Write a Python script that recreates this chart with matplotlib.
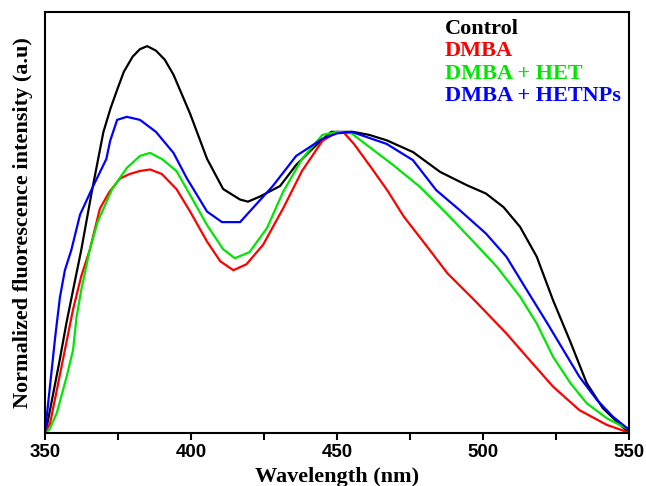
import numpy as np
import matplotlib
matplotlib.use('Agg')
import matplotlib.pyplot as plt
from matplotlib.ticker import MultipleLocator

# Datos (longitud de onda en nm, intensidad normalizada)
wl_control = [350, 350.6, 352.8, 355, 357.3, 359.6, 362.4, 366, 370, 372.5, 374.7, 377, 380,
              382.5, 385, 388, 391, 394, 399.7, 405.5, 411, 416.8, 419.5, 423.6, 430.5, 436,
              443, 448, 452, 455.5, 461, 467, 476, 485.3, 494.4, 501, 507, 512.7, 518.4, 524,
              530, 535.5, 541, 547, 550]
int_control = [0, 0.02, 0.13, 0.24, 0.363, 0.474, 0.607, 0.80, 1.0, 1.08, 1.14, 1.20, 1.25,
               1.275, 1.285, 1.27, 1.24, 1.19, 1.06, 0.91, 0.81, 0.775, 0.768, 0.785, 0.82,
               0.89, 0.957, 1.0, 1.0, 1.0, 0.99, 0.972, 0.933, 0.867, 0.823, 0.795, 0.75,
               0.684, 0.585, 0.44, 0.30, 0.165, 0.082, 0.026, 0]

wl_dmba = [350, 351.7, 354, 356.8, 359.6, 362.4, 365.3, 368.8, 372, 375.7, 379, 382.5, 386,
           390, 395, 399.7, 405.5, 410, 414.5, 419, 424.7, 431.5, 438, 445, 450, 452.4, 455.8,
           461.5, 467.2, 472.9, 480.9, 487.8, 497, 508, 515, 524, 533, 542.4, 550]
int_dmba = [0, 0.03, 0.14, 0.275, 0.41, 0.52, 0.607, 0.745, 0.80, 0.845, 0.86, 0.87, 0.875,
            0.86, 0.81, 0.735, 0.635, 0.57, 0.54, 0.56, 0.625, 0.745, 0.87, 0.97, 1.0, 0.997,
            0.96, 0.884, 0.806, 0.718, 0.618, 0.53, 0.441, 0.33, 0.252, 0.153, 0.075, 0.026, 0]

wl_het = [350, 351.5, 354, 357.4, 359.6, 360.8, 362.4, 365.3, 368, 373, 378, 382.5, 386, 390,
          395, 399.7, 405.5, 411, 415, 420, 426, 431.5, 438, 445, 450, 455, 462.4, 469.2,
          478.4, 487.5, 496.7, 504.7, 512.7, 518.4, 524, 530, 535.5, 542.4, 550]
int_het = [0, 0.01, 0.065, 0.186, 0.275, 0.385, 0.474, 0.607, 0.70, 0.81, 0.88, 0.92, 0.93, 0.91,
           0.87, 0.79, 0.69, 0.61, 0.58, 0.60, 0.68, 0.80, 0.91, 0.99, 1.0, 0.995, 0.94, 0.89,
           0.817, 0.729, 0.635, 0.552, 0.452, 0.363, 0.252, 0.164, 0.098, 0.048, 0.01]

wl_hetnps = [350, 351.8, 353.5, 355.1, 356.8, 359, 362, 366.5, 371, 372.3, 374.7, 378, 382.5,
             388, 394, 398.6, 405.5, 410.6, 416.8, 421, 428, 436, 445, 450, 455, 467, 476,
             484, 492, 501, 508, 515, 522, 527.5, 533, 539, 544.5, 550]
int_hetnps = [0, 0.164, 0.32, 0.45, 0.54, 0.607, 0.725, 0.82, 0.91, 0.97, 1.04, 1.05, 1.04,
              1.0, 0.93, 0.845, 0.735, 0.70, 0.70, 0.745, 0.82, 0.92, 0.977, 0.995, 1.0, 0.96,
              0.906, 0.806, 0.74, 0.662, 0.585, 0.474, 0.364, 0.275, 0.186, 0.109, 0.053, 0.01]

series = [
    ('Control', wl_control, int_control, 'black'),
    ('DMBA', wl_dmba, int_dmba, '#ff0000'),
    ('DMBA + HET', wl_het, int_het, '#00e600'),
    ('DMBA + HETNPs', wl_hetnps, int_hetnps, '#0000ff'),
]

serif = ['Liberation Serif', 'DejaVu Serif']
sans = ['Liberation Sans', 'DejaVu Sans']

fig = plt.figure(figsize=(6.46, 4.86), dpi=100)
ax = fig.add_axes([0.0697, 0.1097, 0.904, 0.8653])

for nombre, x, y, color in series:
    ax.plot(x, y, color=color, linewidth=1.6, label=nombre)

ax.set_xlim(350, 550)
ax.set_ylim(0, 1.398)
ax.xaxis.set_major_locator(MultipleLocator(50))
ax.xaxis.set_minor_locator(MultipleLocator(25))
ax.set_yticks([])
ax.tick_params(axis='x', which='both', direction='out', length=5, width=1.5)
for lab in ax.get_xticklabels():
    lab.set_fontfamily(sans)
    lab.set_fontweight('bold')
    lab.set_fontsize(13.5)
for sp in ax.spines.values():
    sp.set_linewidth(1.5)

ax.set_xlabel('Wavelength (nm)', fontsize=16, fontweight='bold', family=serif, labelpad=4)
ax.set_ylabel('Normalized fluorescence intensity (a.u)', fontsize=16, fontweight='bold',
              family=serif, labelpad=9)

leg = ax.legend(loc='upper left', bbox_to_anchor=(0.685, 0.985), frameon=False,
                handlelength=0, handletextpad=0, borderpad=0, borderaxespad=0,
                labelspacing=0.08, labelcolor='linecolor',
                prop={'family': serif, 'weight': 'bold', 'size': 16})
for h in leg.legend_handles:
    h.set_visible(False)

plt.savefig('out.png', dpi=100)
